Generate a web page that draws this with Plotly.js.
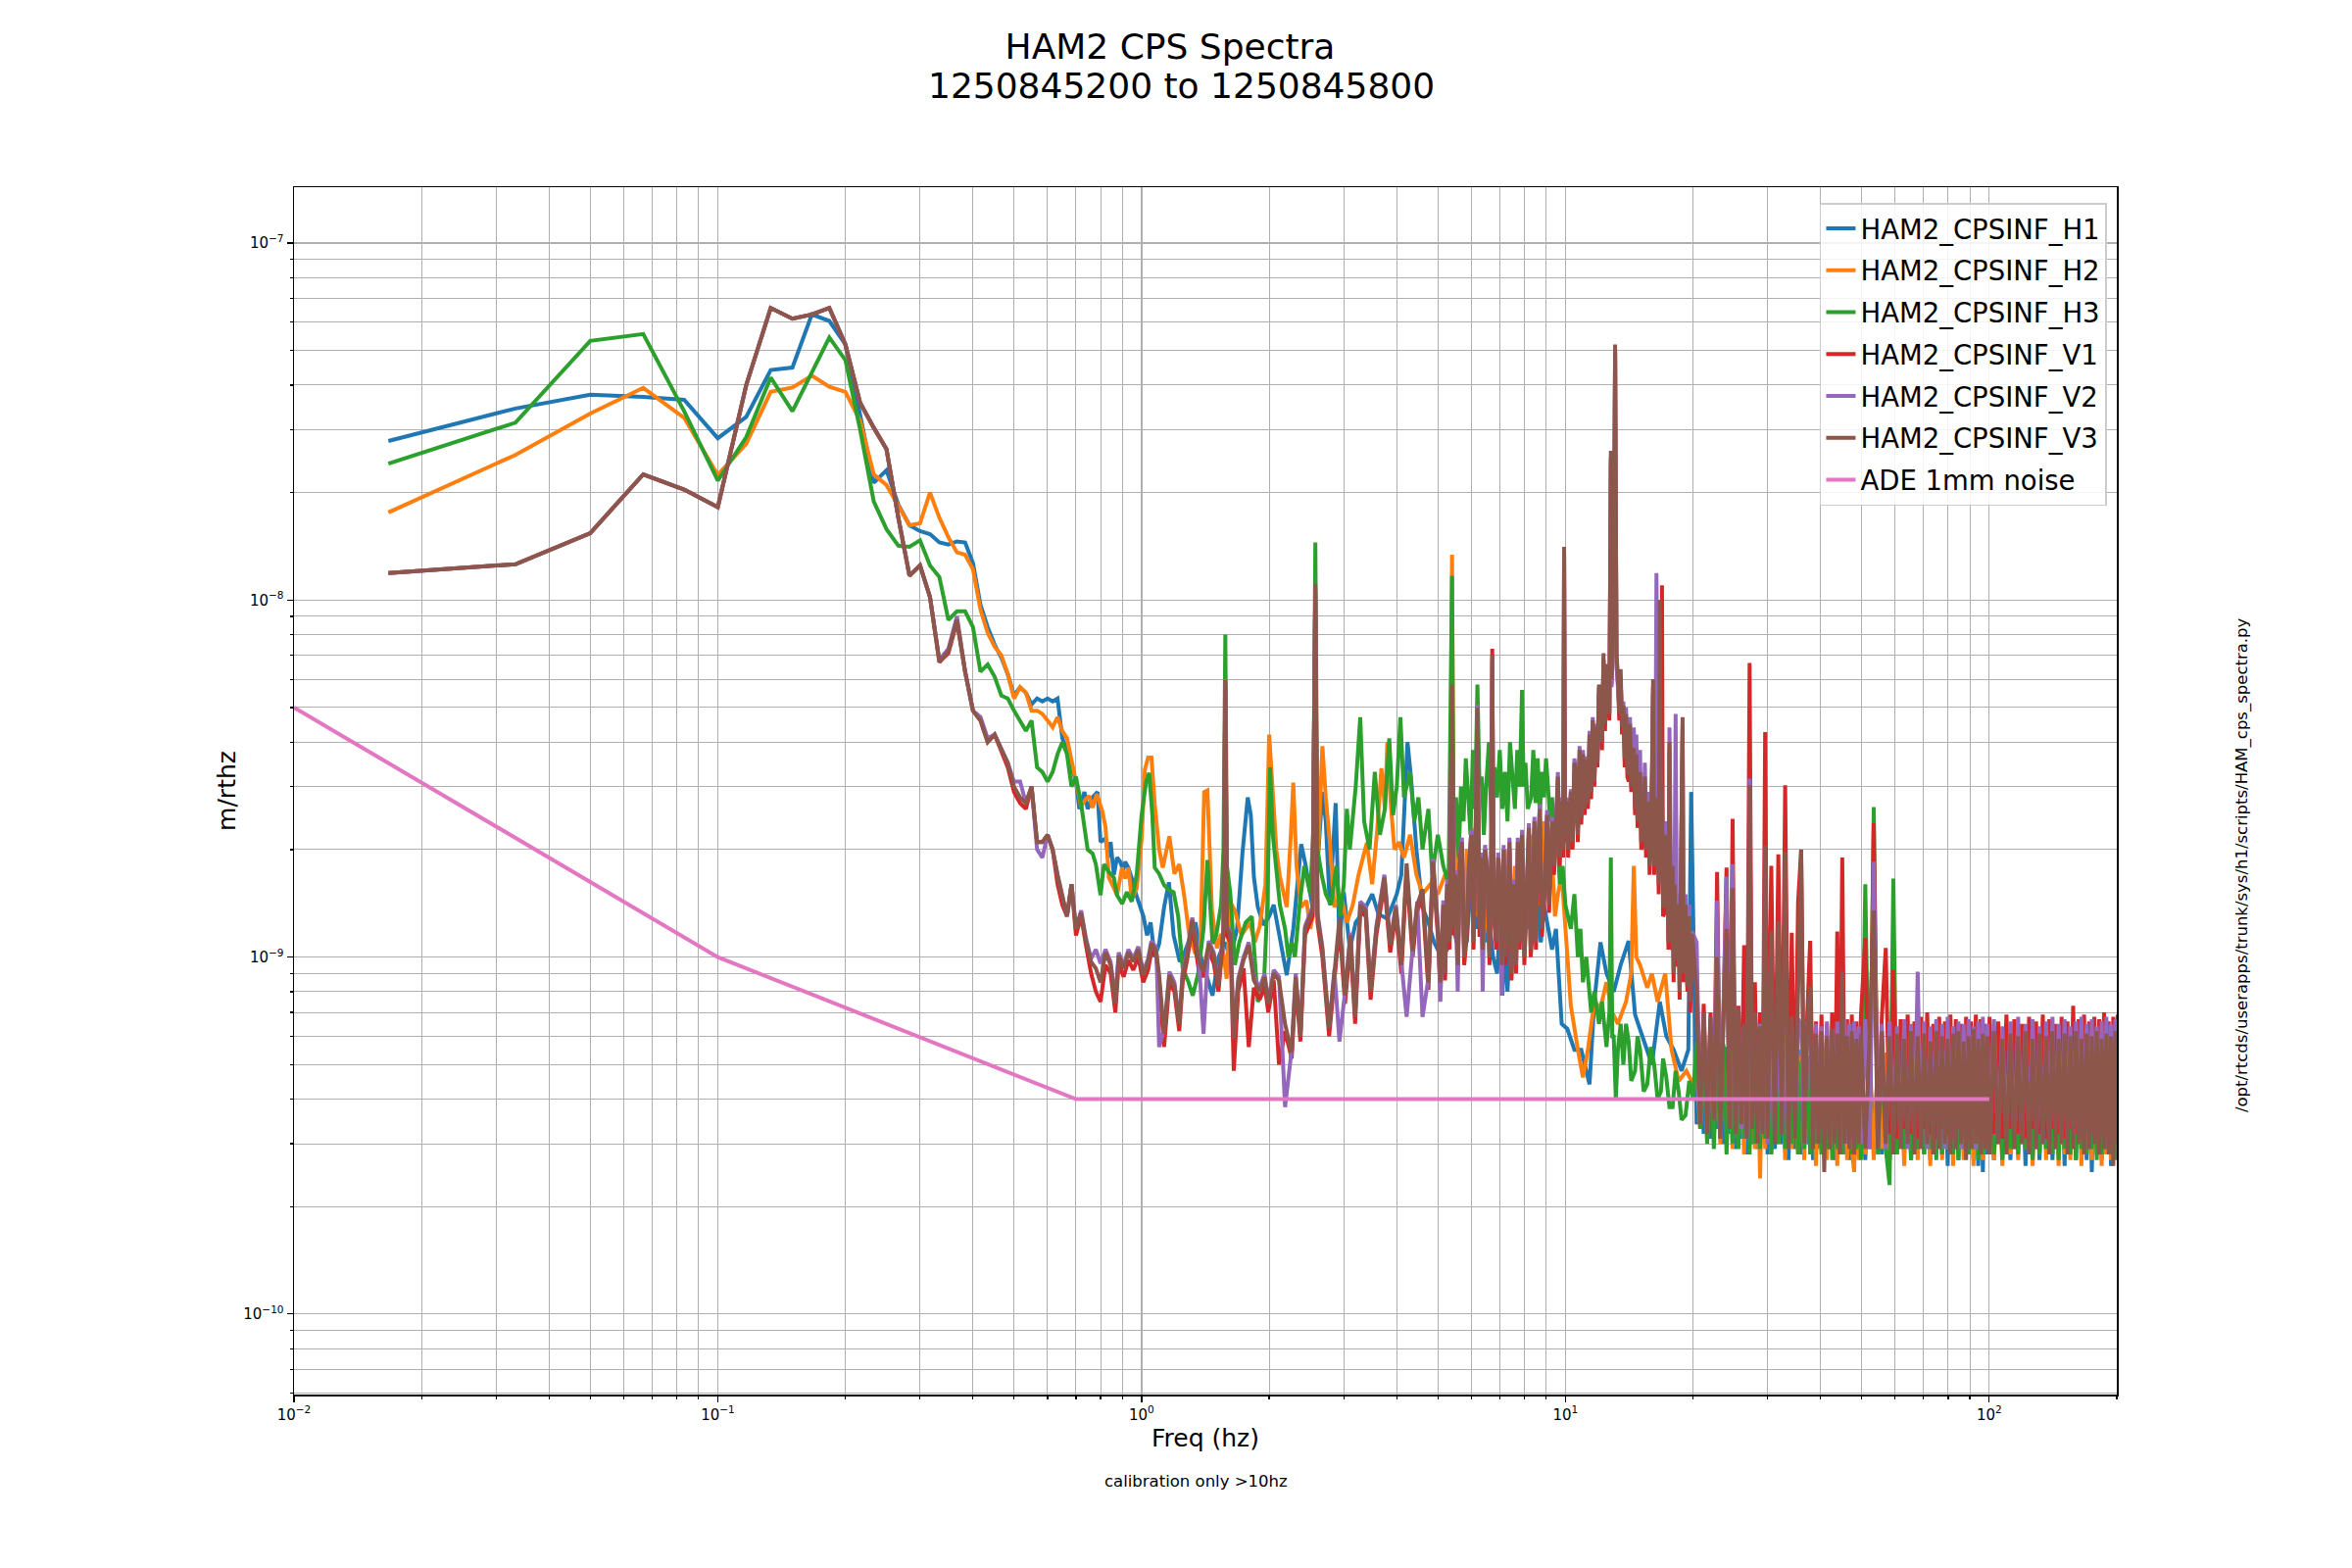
<!DOCTYPE html>
<html><head><meta charset="utf-8">
<script src="https://cdn.plot.ly/plotly-3.0.1.min.js"></script>
<style>html,body{margin:0;padding:0;background:#fff}#chart{width:2400px;height:1600px}</style>
</head><body><div id="chart"></div>
<script>
// All spectral values below are in units of 1e-10 m/rtHz
const UNIT = 1e-10;

// ---- low-frequency bins (Hz), shared by all channels
const fLow = [0.0167,0.0333,0.05,0.0667,0.0833,0.1,0.1167,0.1333,0.15,0.1667,0.1833,0.2,0.2167,0.2333,0.25,0.2667,0.2833,0.3,0.3167,0.3333,0.35,0.3667,0.3833,0.4,0.4167,0.4333,0.45,0.4667,0.4833,0.5,0.5167,0.5333,0.55,0.5667,0.5833,0.6,0.6167,0.6333,0.65,0.6667,0.6833,0.7];

const h1Low = [279,344,376,371,364,284,326,441,448,631,605,520,330,213,231,185,162,156,153,145,143,146,145,127,97,84,75,69,62,54,57,55,51,53,52,53,52,53,41,38,34,31];
const h2Low = [176,255,333,393,324,224,274,383,394,425,396,383,318,225,210,183,162,164,200,170,150,136,134,122,94,81,74,70,62,53,57,55,49,49,48,46,44,47,43,41,36,31];
const h3Low = [241,314,532,556,338,216,286,420,338,436,544,470,300,189,158,142,141,147,125,116,88,93,93,84,63,66,61,54,53,49,46,43,46,34,33,31,33,37,40,37,30,32];
const v1Low = [119,126,154,225,204,182,400,658,614,631,658,520,357,304,265,170,117,125,102,67,71,87,63,49,46,40,42,38,34,29,27,26,30,21,21,22,20,16,14,13,16,11.5];
const v2Low = [119,126,154,225,204,182,400,658,614,631,658,520,357,304,265,170,117,125,102,68,73,90,63,49,47,41,42,38,35,31,31,27,30,20,19,22,20,17,15,13,16,12];
const v3Low = [119,126,154,225,204,182,400,658,614,631,658,520,357,304,265,170,117,125,102,67,72,88,63,49,46,40,42,38,35,30,28,27,30,21,21,22,20,17,15,13,16,12];

// ---- mid band (0.7 - 20 Hz)
const h1MidF = [0.713,0.733,0.746,0.766,0.787,0.80,0.822,0.835,0.845,0.86, 0.875,0.89,0.905,0.915,0.93,0.95,0.97,1.01,1.03,1.05, 1.074,1.1,1.13,1.16,1.19,1.23,1.26,1.29,1.34,1.38, 1.42,1.47,1.52,1.57,1.62,1.68,1.73,1.78,1.81,1.84, 1.88,1.94,2.0,2.05,2.1,2.2,2.28,2.38,2.44,2.53, 2.6,2.67,2.72,2.78,2.87,2.93,3.0,3.1,3.2,3.35, 3.5,3.62,3.8,4.0,4.1,4.24,4.32,4.45,4.6,4.75, 4.9,5.1,5.26,5.4,5.45,
 5.54,5.65,5.75,5.85,6.0,6.15,6.28,6.45,6.6,6.75, 6.9,7.0,7.1,7.2,7.3,7.45,7.6,7.8,8.0,8.15, 8.35,8.5,8.6,8.75,8.9,9.1,9.3,9.5,9.65,
 9.8,10.1,10.5,10.9,11.4,11.7,12.1,12.5,13.0,13.5,14.1,14.6,15.2,16.0,16.7,17.3,18.0,18.8,19.5,19.8];
const h1Mid = [26,29,26,28,29,21,21.5,19,21,17, 19,18.5,17.5,18.5,17.8,16.5,15,13,11.5,12.5, 10,10.9,13.8,16.2,11.5,9.7,10.2,11,12.5,10, 9,7.8,10,11,10,12,19.6,28,25,16.8, 13.8,12.3,13,14,12,8.9,12,20.7,18,13.8, 18,29,24,14,27,11,15.2,10.5,12.5,13.5, 15,13.2,12.8,15,17,40,32,20,13.8,12.5, 11,10,10.5,25,12,
 11,15,14,11,17,12,15,11,13,10, 9,12,7.8,11,8,14,13,11,14,12, 13.5,16,14,11,14,12,10.5,12,9,
 6.5,6.3,5.5,5.5,4.4,7.5,11,9,8,9.5,11.1,6.9,6,5,7.5,6,5.5,4.8,5.5,29];

const h2MidF = [0.72,0.735,0.752,0.766,0.784,0.808,0.822,0.837,0.86,0.875, 0.899,0.915,0.931,0.948,0.974,1.0,1.018,1.036,1.055,1.074, 1.1,1.122,1.163,1.195,1.227,1.26,1.294,1.34,1.377,1.405, 1.43,1.465,1.505,1.54,1.587,1.62,1.66,1.72,1.8,1.85, 1.9,1.96,2.0,2.04,2.08,2.12,2.16,2.2,2.25,2.28, 2.32,2.38,2.45,2.5,2.56,2.62,2.67,2.72,2.78,2.85, 2.95,3.05,3.15,3.25,3.4,3.5,3.6,3.68,3.75,3.8, 3.87,3.95,4.05,4.16,4.3,4.45,4.6,4.8,5.0,5.2, 5.35,5.4,
 5.45,5.5,5.55,5.62,5.7,5.78,5.85,5.9,6.0,6.1, 6.2,6.3,6.4,6.5,6.6,6.7,6.8,6.87,6.95,7.1, 7.2,7.3,7.45,7.6,7.7,7.9,8.0,8.2,8.3,8.5, 8.6,8.8,8.9,9.0,9.15,9.3,9.45,9.6,9.8,10.0,
 10.3,10.7,11.0,11.3,11.7,12.1,12.5,12.9,13.3,13.9,14.3,14.5,14.7,15.0,15.6,16.0,16.5,17.2,17.8,18.5,19.3,20.0];
const h2Mid = [26.4,27.5,28.3,26.2,28.6,25.6,23.1,16.7,15.6,14.9, 17.8,16.6,17.8,14.5,15.6,21.4,33.5,36.2,36.2,26.8, 20,17.8,21.8,17.1,18.2,14.9,11.6,10.2,10.9,29, 29.3,13.6,10.6,11.6,8.7,14.2,13.5,11.5,12.5,11, 12.2,16,42,30,19.9,16.8,15,13.8,22,30.8, 18,13.8,14.4,12,13.8,22,39,28,21,13.8, 15,12.5,14,17,20.9,16,23,33.8,26,40, 27,20,21,19,22,17,15,16,15,17, 17,134,
 20,15,22,13,18,12,20,16,23,19, 13,16,11,15,11,13,17,11,19,14, 20,17,12,18,14,20,15,17,22,19, 14,17,24,21,16,19,13,15,17,12,
 7.3,5.5,4.6,5.5,7.5,7.2,8.5,7,6.5,7.5,9,18,10,9.5,8.2,9,7.5,9,5.5,4.5,4.8,4.4];

const h3MidF = [0.72,0.746,0.766,0.78,0.8,0.815,0.837,0.86,0.875,0.9, 0.923,0.948,0.974,1.0,1.025,1.042,1.06,1.074,1.1,1.13, 1.16,1.19,1.22,1.25,1.29,1.32,1.36,1.4,1.43,1.47, 1.5,1.54,1.56,1.576,1.59,1.62,1.66,1.7,1.76,1.82, 1.88,1.94,1.98,2.01,2.04,2.08,2.12,2.18,2.22,2.26, 2.3,2.36,2.42,2.5,2.54,2.57,2.6,2.66,2.72,2.8, 2.88,2.94,3.0,3.05,3.1,3.2,3.28,3.35,3.45,3.55, 3.65,3.75,3.84,3.92,4.0,4.08,4.16,4.3,4.4,4.5, 4.6,4.75,4.85,5.0,5.15,5.3,5.4,
 5.45,5.52,5.6,5.67,5.75,5.82,5.9,5.97,6.05,6.12, 6.2,6.27,6.35,6.42,6.5,6.6,6.7,6.8,6.9,7.0, 7.1,7.2,7.3,7.4,7.5,7.6,7.7,7.8,7.9,7.97, 8.05,8.15,8.3,8.4,8.5,8.6,8.7,8.8,8.9,9.0, 9.1,9.2,9.3,9.4,9.55,9.7,9.85,10.0,10.3,10.5, 10.7,10.85,11.0,11.2,11.5,11.7,12.0,12.2,12.5,12.7, 12.8,12.9,13.0,13.15,13.3,13.5,13.7,13.9,14.1,14.3, 14.6,14.8,15.0,15.3,15.6,15.9,16.2,16.5,16.8,17.0, 17.3,17.6,17.9,18.2,18.5,18.8,19.2,19.6,20.0];
const h3Mid = [26.8,20,19.5,18.2,14.9,18.2,17.3,16.7,14.9,14.1, 15.2,14.3,17.1,25,31,32.8,25,17.8,17.1,15.9, 15.4,15.2,13,9.3,8.5,7.8,9,12,18.7,10.9, 11.5,14,20,80,18,15,9.5,11,12.5,13, 7.5,8,14,34,22,18,14,12,10,11, 10,14,18,15,22,145,20,17,15,14, 18,13,16,26,20,30,47,24,20,33, 22,26,41,25,30,47,28,33,24,28, 20,26,17,22,18,16,117,
 20,28,19,30,24,36,28,22,38,26, 58,30,32,22,30,40,22,34,28,38, 26,33,24,40,32,26,38,30,56,30, 35,26,28,38,27,36,25,33,28,36, 30,24,28,22,24,16,18,14,12,15, 10,12,8.5,10,7,8,6.5,7.5,5.6,7, 19,6,6,4,5.5,6.5,5,6.5,5.8,4.5, 4.8,6,5.5,4.2,4.4,5.6,5,4,4.2,5.2, 4.6,3.8,3.8,4.8,4.2,3.5,3.6,4.5,4.0];

// V channels share one mid-band frequency list
const vMidF = [0.72,0.739,0.76,0.78,0.80,0.822,0.845,0.867,0.883,0.907, 0.931,0.956,0.982,1.009,1.036,1.055,1.083,1.10,1.13,1.163, 1.195,1.227,1.25,1.28,1.317,1.364,1.40,1.44,1.48,1.518, 1.56,1.576,1.59,1.62,1.65,1.69,1.74,1.79,1.84,1.90, 1.95,1.99,2.05,2.11,2.18,2.26,2.31,2.37,2.43,2.53, 2.57,2.60,2.67,2.77,2.85,2.93,3.02,3.11,3.19,3.28, 3.38,3.47,3.58,3.74,3.86,3.98,4.10,4.22,4.36,4.47, 4.60,4.75,4.87,
 5.0,5.07,5.15,5.2,5.26,5.33,5.40,5.45,5.50,5.57, 5.64,5.70,5.77,5.85,5.92,6.0,6.07,6.13,6.2,6.27, 6.32,6.38,6.46,6.55,6.62,6.68,6.72,6.77,6.87,6.94, 7.0,7.08,7.15,7.22,7.3,7.38,7.46,7.57,7.65,7.72, 7.8,7.9,8.0,8.1,8.2,8.28,8.35,8.45,8.52,8.6, 8.7,8.8,8.96,9.05,9.15,9.3,9.4,9.5,9.6,9.7, 9.8,9.88,9.93,9.98,10.07,10.15,10.3,10.4,10.5,10.6, 10.7,10.8,10.9,11.0,11.1,11.2,11.3,11.4,11.5,11.6, 11.7,11.8,11.9,12.0,12.1,12.2,12.3,12.4,12.5,12.6, 12.7,12.8,12.85,12.9,13.0,13.1,13.2,13.3,13.4,13.5, 13.6,13.7,13.8,13.9,14.0,14.1,14.2,14.3,14.5,14.6, 14.7,14.8,14.9,15.0,15.1,15.3,15.4,15.5,15.7,15.8, 16.0,16.1,16.2,16.3,16.4,16.5,16.6,16.7,16.8,16.9, 17.0,17.1,17.25,17.4,17.5,17.6,17.7,17.8,17.9,18.0, 18.1,18.2,18.3,18.5,18.6,18.7,18.9,19.0,19.2,19.4, 19.6,19.7,19.9];
const v1Mid = [13.0,10.8,9.0,8.0,7.5,9.5,9.0,7.0,9.6,8.8, 9.8,9.2,10,8.5,9.2,10.4,10,8.5,5.6,8.5, 8,6.2,8.5,9.8,12.2,9.2,8.8,10.4,9.6,8, 11.4,57,11.5,11,4.8,8,9.3,5.6,8.2,7.6, 8.4,7,8.6,5.0,6.2,5.2,8.4,5.8,11.5,13, 105,12.5,10,6,8.6,12.2,7.4,11,6.5,13.4, 13,7.6,11.5,16,10.3,13.2,9,17.5,10,13.4, 14.8,8.1,17.7,
 11.5,8,13.4,8.6,15.3,10.5,56,11.5,16.2,9, 18,20,9.5,11.4,17,21,10.5,19,48,11.4, 18,10,19,16.2,9.5,17,73,13.3,10.5,18, 15.2,9,19,9.5,12.4,20,8.6,15.2,9,20, 10.5,21,9.5,14.3,22,10,11.4,23,10.5,18, 25,11.4,16.2,24,13.3,23,
 17,22,31,18, 26,19,135,21,26,19,27.7,20,33,31, 21,36,23.5,35,25,34,26,40,27.7,44, 30,42,34,55,52,38,68,43,63,61, 46,250,58,72,90,495,66,59,46,61, 42,48,34,46,32,31,43,29,37,25, 35,23,26,31,20,21,30,19,26,17, 29,57,17,25,19.8,27,15,30,17,110, 13,13.2,21,18.5,10.5,38,11,10.5,17,8.5, 15,9.4,13,12.4,7.6,15,45,8.5,13,8, 12,7,11];
const v2Mid = [13.5,11.3,9.9,10.5,9.6,10.5,9.7,7.6,10.3,9.5, 10.5,9.9,10.7,9.1,9.9,11.1,10.6,5.6,6.3,9.1, 8.5,6.6,9.1,10.3,12.9,9.9,6.1,11.1,10.3,8.5, 12.1,60,12.2,11.8,6.0,8.7,10,11,8.8,8.2, 9,7.5,9.2,8.8,3.8,5.5,9,6.1,12.2,13.8, 108,13.3,10.7,6.4,9.2,5.8,8,11.7,6.9,14.3, 13.8,8.2,12.2,17,11,14,9.7,6.8,10.6,14.3, 6.8,8.7,18.9,
 12.4,7.5,14.4,9.3,16.5,11.3,57,12.4,17.5,8, 19.6,21.6,10.3,12.4,18.5,22.7,11.3,20.6,51,12.4, 19.6,8,20.6,17.5,10.3,18.5,68,14.4,11.3,19.6, 16.5,7.8,20.6,10.3,13.4,21.6,9.3,16.5,9.8,21.6, 11.3,22.7,10.3,15.5,23.7,10.8,12.4,24.7,11.3,19.6, 26.8,12.4,17.5,25.8,14.4,24.7,
 18.5,23.5,33,19.5, 28,21,138,23,28,21,29.5,22,36,33, 23,39,25,38,27,36.5,28,43,29.5,47, 32,45,36,57,52,41,60,46,62,58, 49,240,57,70,85,505,65,58,50,60, 46,52,40,50,38,36,47,34,44,30, 42,28,36,38,24,25,35,22,29,20, 33,55,20,28,119,30,18,70,20,28, 15,15,24,21,12,44,13,12,19,10, 17,48,15,13,9,17,40,10,15,8.5, 14,8,11.8];
const v3Mid = [13.3,11.1,9.7,9.3,8.5,10.3,9.5,7.4,10.1,9.3, 10.3,9.7,10.5,8.9,9.7,10.9,10.4,8.9,6.1,8.9, 8.3,6.5,8.9,10.1,12.7,9.7,9.1,10.9,10.1,8.3, 11.9,59.7,12,11.6,5.9,8.5,9.8,10.8,8.6,8.0, 8.8,7.4,9.0,8.6,6.5,5.4,8.8,6.0,12,13.5, 111,13,10.5,6.3,9.0,12.8,7.8,11.5,6.8,14, 13.5,8,12,16.7,10.8,13.8,9.5,18.3,10.4,14, 15.5,8.5,18.5,
 12,8.5,14,9,16,11,58,12,17,9.5, 19,21,10,12,18,22,11,20,50,12, 19,10.5,20,17,10,18,70,14,11,19, 16,9.5,20,10,13,21,9,16,9.5,21, 11,22,10,15,23,10.5,12,24,11,19, 26,12,17,25,14,24,
 18,23,32,19, 27.3,20,141,22,27.3,20,29,21,35,32.4, 22,38,24.6,37,26,35.8,27,42,29,46, 31,44.1,35,58,54.2,40,71,45,66,64.3, 48,262,60,76,95,520,70,62,48,64, 44,50.6,36,48,34,32.4,45,30,38.5,26, 37,24,27.3,33,21,22.2,32,20,27.3,18, 30,60,18,26,20.7,28,16,100,18,30, 14,13.8,22,19.4,11,40,12,11,18,9, 16,9.8,14,13,8,16,47,9,14,8.3, 13,7.5,11.6];

// ---- high band (20 - 200 Hz), shared frequency grid
const fHigh = [20.4,20.8,21.2,21.6,22.0,22.4,22.8,23.2,23.6,24.0,24.4,24.8,25.2,25.6,26.0,26.4,26.8,27.2,27.6,28.0,28.4,28.8,29.2,29.6,30.0,
30.6,31.2,31.8,32.4,33.0,33.6,34.2,34.8,35.4,36.0,36.6,37.2,37.8,38.4,39.0,39.6,40.2,40.8,41.4,42.0,42.6,43.2,43.8,44.4,45.0,45.6,46.2,46.8,47.4,48.0,48.6,49.2,49.8,
51.0,52.2,53.4,54.6,55.8,57.0,58.2,59.4,60.6,61.8,63.0,64.2,65.4,66.6,67.8,69.0,70.2,71.4,72.6,73.8,75.0,76.2,77.4,78.6,79.8,81.0,82.2,83.4,84.6,85.8,87.0,88.2,89.4,90.6,91.8,93.0,94.2,95.4,96.6,97.8,99.0,100.2,
102.6,105.0,107.4,109.8,112.2,114.6,117.0,119.4,121.8,124.2,126.6,129.0,131.4,133.8,136.2,138.6,141.0,143.4,145.8,148.2,150.6,153.0,155.4,157.8,160.2,162.6,165.0,167.4,169.8,172.2,174.6,177.0,179.4,181.8,184.2,186.6,189.0,191.4,193.8,196.2,198.6,201.0];

const h1High = [3.4,5.2,3.2,5.5,3.1,5.0,3.3,5.4,3.0,5.6, 3.2,5.1,2.9,5.5,3.1,5.0,2.8,5.6,3.0,5.2, 2.9,5.4,3.1,5.0,2.8,5.5,2.9,5.1,3.0,5.4, 2.7,5.2,2.9,5.5,2.8,5.0,3.0,5.3,2.7,5.1, 2.9,5.4,2.8,5.0,2.9,5.3,2.7,5.1,2.9,5.4, 2.8,5.0,2.7,5.2,2.9,5.4,2.8,5.1,2.7,5.3, 2.9,5.0,2.8,5.4,2.7,5.2,2.9,5.0,2.8,5.3, 2.7,5.1,2.9,5.4,2.8,5.0,2.7,5.2,2.9,5.3, 2.8,5.1,2.6,5.4,2.8,5.0,2.7,5.2,2.9,5.3, 2.8,5.1,2.7,5.4,2.6,5.0,2.5,5.2,2.8,5.3, 2.7,5.1,2.9,5.4,2.7,5.0,2.8,5.2,2.6,5.3, 2.8,5.1,2.7,5.4,2.9,5.0,2.7,5.2,2.8,5.3, 2.6,5.1,2.8,5.4,2.7,5.0,2.9,5.2,2.7,5.3, 2.5,5.1,2.8,5.4,2.7,5.0,2.8,5.2,2.6,5.3,2.8,5.1];
const h2High = [5.0,3.3,5.3,3.1,5.1,3.4,5.4,3.0,5.2,3.2, 5.0,2.9,5.3,3.1,5.1,2.8,5.4,3.0,5.0,2.9, 5.2,2.4,5.3,2.9,5.1,2.8,5.0,3.0,5.4,2.7, 5.2,2.9,5.0,2.8,5.3,2.7,5.1,2.9,5.4,2.6, 5.0,2.8,5.2,2.7,5.3,2.9,5.1,2.6,5.0,2.8, 5.4,2.7,5.2,2.9,2.5,5.1,2.7,5.3,2.8,5.0, 2.7,5.2,2.9,5.4,2.7,5.1,2.8,5.0,2.6,5.3, 2.8,5.2,2.7,5.0,2.9,5.4,2.6,5.1,2.8,5.3, 2.7,5.0,2.9,5.2,2.6,5.4,2.8,5.1,2.7,5.3, 2.9,5.0,2.6,5.2,2.8,5.4,2.7,5.1,2.9,5.0, 2.7,5.3,2.6,5.2,2.8,5.0,2.7,5.4,2.9,5.1, 2.6,5.3,2.8,5.0,2.7,5.2,2.9,5.4,2.6,5.1, 2.8,5.3,2.7,5.0,2.9,5.2,2.6,5.4,2.8,5.1, 2.7,5.0,2.9,5.3,2.6,5.2,2.8,5.0,2.7,5.4,2.9,5.1];
const h3High = [5.8,3.3,5.5,3.0,5.9,2.9,5.4,3.1,5.7,2.8, 5.3,3.0,5.6,2.9,5.2,3.1,5.5,2.8,5.3,3.0, 5.6,2.9,5.2,3.1,5.4,2.8,5.3,3.0,5.5,2.9, 5.2,3.0,5.4,2.8,5.1,2.9,5.3,2.8,5.5,3.0, 5.2,2.8,5.4,2.9,5.1,2.7,5.3,2.9,5.5,2.8, 5.2,3.0,5.4,2.8,5.1,2.9,5.3,2.7,16,2.9, 26.3,2.8,5.3,2.9,2.3,16.6,2.8,5.2,2.9,5.4, 2.7,5.1,2.9,5.3,2.8,5.5,2.9,5.2,2.7,5.4, 2.8,5.1,2.9,5.3,2.8,5.5,2.7,5.2,2.9,5.4, 2.8,5.1,2.9,5.3,2.7,5.5,2.8,5.2,2.9,5.4, 2.8,5.1,2.7,5.3,2.9,5.5,2.8,5.2,2.9,5.4, 2.7,5.1,2.8,5.3,2.9,5.5,2.8,5.2,2.7,5.4, 2.9,5.1,2.8,5.3,2.7,5.5,2.9,5.2,2.8,5.4, 2.9,5.1,2.7,5.3,2.8,5.5,2.9,5.2,2.8,5.4,2.7,5.1];
const v1High = [9,3.6,7.4,3.5,7.0,3.7,17.3,3.4,7.2,17.8, 3.5,24.4,3.4,7.3,3.6,10.8,3.3,66.6,3.5,8.5, 3.3,7.0,3.5,42.7,3.3,18,3.2,19.4,3.4,30.3, 3.2,11.7,3.3,14.2,20,3.2,6.8,11.1,3.2,6.6, 3.3,6.9,3.1,6.5,3.2,7.0,3.3,11.8,3.1,19, 3.3,6.7,3.2,6.9,3.1,6.6,3.3,6.8,11.3,3.2, 23.7,3.1,6.8,10.6,3.2,9.2,3.1,6.7,3.3,6.9, 3.2,6.6,3.1,6.8,3.3,7.0,3.2,6.5,3.1,6.8, 3.3,6.6,3.2,6.9,3.1,6.7,3.3,6.5,3.2,6.8, 3.1,6.6,3.3,6.9,3.2,6.7,3.1,6.5,3.3,6.8, 3.2,6.6,3.1,6.9,3.3,6.7,3.2,6.5,3.1,6.8, 3.3,6.6,3.2,6.9,3.1,6.7,3.3,6.5,3.2,6.8, 3.1,6.6,3.3,7.3,3.2,6.7,3.1,6.9,3.3,6.6, 3.2,6.8,3.1,6.7,3.3,7.0,3.2,6.6,3.1,6.8,3.3,6.9];
const v2High = [11,3.4,7.0,3.3,6.6,3.5,14.4,3.2,6.9,16.8, 3.3,18.2,3.2,7.0,3.3,6.4,3.1,31.6,3.3,6.6, 3.1,6.5,3.2,20,3.0,6.8,3.1,6.6,3.2,6.9, 3.0,6.4,3.1,6.7,6.5,3.0,6.6,6.3,3.0,6.5, 3.1,6.4,2.9,6.6,3.0,6.3,3.1,6.6,2.9,6.4, 6.7,3.0,6.5,2.9,6.6,3.1,6.4,3.0,6.7,2.9, 18.5,3.0,6.5,2.9,6.6,3.1,6.4,3.0,6.7,2.9, 6.5,3.1,9.1,3.0,6.6,2.9,6.4,3.1,6.7,3.0, 6.5,2.9,6.8,3.0,6.4,3.1,6.6,2.9,6.5,3.0, 6.7,3.1,6.4,2.9,6.6,3.0,6.8,3.1,6.5,2.9, 6.7,3.0,6.4,3.1,6.6,2.9,6.8,3.0,6.5,3.1, 6.7,2.9,6.4,3.0,6.6,3.1,6.8,2.9,6.5,3.0, 6.7,3.1,6.4,2.9,6.6,3.0,6.8,3.1,6.5,2.9, 6.7,3.0,6.4,3.1,6.6,2.9,6.8,3.0,6.5,3.1,6.7,3.0];
const v3High = [8.0,3.4,7.0,3.2,6.8,3.5,10,3.1,6.6,12, 3.3,15.6,3.2,7.2,3.4,6.5,3.1,30.3,3.3,7.0, 3.0,6.4,3.2,20.5,3.1,11.8,3.0,12.6,3.2,19.7, 2.9,6.8,3.1,7.4,20,3.0,6.3,8.3,2.9,6.1, 3.0,6.2,2.5,6.0,2.9,6.3,3.0,6.1,2.8,9.1, 3.0,6.0,2.9,6.2,2.8,5.9,3.0,6.1,2.9,6.0, 13.5,2.9,6.2,3.0,6.0,2.8,6.1,2.9,5.9,3.0, 6.2,2.8,6.0,2.9,6.1,3.0,5.8,2.8,6.2,2.9, 6.0,3.0,5.9,2.8,6.1,2.9,6.2,3.0,5.8,2.7, 6.0,2.9,6.3,3.0,5.9,2.8,6.1,2.9,6.0,2.8, 6.2,3.0,5.9,2.8,6.1,2.9,6.0,3.0,6.2,2.8, 5.9,2.9,6.1,3.0,6.0,2.8,6.2,2.9,5.9,3.0, 6.1,2.8,6.0,2.9,6.2,3.0,5.9,2.8,6.1,2.9, 6.0,3.0,6.2,2.8,5.9,2.9,6.1,2.8,6.0,2.6,6.2,3.0];

// ---- ADE 1mm noise model (Hz, m/rtHz)
const adeF = [0.01,0.1,0.7,100];
const adeV = [5e-9,1e-9,4e-10,4e-10];

const names = ['HAM2_CPSINF_H1','HAM2_CPSINF_H2','HAM2_CPSINF_H3','HAM2_CPSINF_V1','HAM2_CPSINF_V2','HAM2_CPSINF_V3','ADE 1mm noise'];
const colors = ['#1f77b4','#ff7f0e','#2ca02c','#d62728','#9467bd','#8c564b','#e377c2'];

// tick labels
const xTickVals = [0.01,0.1,1,10,100];
const xTickText = ['10<sup>\u22122</sup>','10<sup>\u22121</sup>','10<sup>0</sup>','10<sup>1</sup>','10<sup>2</sup>'];
const yTickVals = [1e-10,1e-9,1e-8,1e-7];
const yTickText = ['10<sup>\u221210</sup>','10<sup>\u22129</sup>','10<sup>\u22128</sup>','10<sup>\u22127</sup>'];
const minorDigits = [2,3,4,5,6,7,8,9];
function minorVals(exps){const o=[];exps.forEach(e=>minorDigits.forEach(d=>o.push(d*Math.pow(10,e))));return o;}

const LW = 4;
function chan(i, fMid, low, mid, high){
  return {type:'scatter', mode:'lines', name:names[i], legendgroup:'g'+i,
    x: fLow.concat(fMid, fHigh),
    y: low.concat(mid, high).map(v=>v*UNIT),
    line:{color:colors[i], width:LW}};
}
const data = [
  chan(0, h1MidF, h1Low, h1Mid, h1High),
  chan(1, h2MidF, h2Low, h2Mid, h2High),
  chan(2, h3MidF, h3Low, h3Mid, h3High),
  chan(3, vMidF, v1Low, v1Mid, v1High),
  chan(4, vMidF, v2Low, v2Mid, v2High),
  chan(5, vMidF, v3Low, v3Mid, v3High),
  {type:'scatter', mode:'lines', name:names[6], legendgroup:'g6', x:adeF, y:adeV, line:{color:colors[6], width:LW}}
];

const gridC = '#b0b0b0';
const axBase = {
  type:'log', showgrid:true, gridcolor:gridC, gridwidth:1.2, zeroline:false,
  ticks:'outside', ticklen:6, tickwidth:1.2, tickcolor:'#000',
  showline:true, linecolor:'#000', linewidth:1.5, mirror:true,
  tickfont:{size:15, color:'#000'}, tickmode:'array'
};
const layout = {
  width:2400, height:1600,
  paper_bgcolor:'#fff', plot_bgcolor:'#fff',
  margin:{l:300, r:240, t:191, b:177},
  font:{family:'DejaVu Sans, sans-serif', color:'#000'},
  showlegend:true, hovermode:false,
  title:{text:'HAM2 CPS Spectra', font:{size:36, color:'#000'},
    x:0.4975, xref:'container', xanchor:'center', y:0.9706, yref:'container', yanchor:'middle'},
  xaxis:Object.assign({}, axBase, {
    range:[-2, Math.log10(200)], tickvals:xTickVals, ticktext:xTickText,
    minor:{tickmode:'array', tickvals:minorVals([-2,-1,0,1,2]), showgrid:true, gridcolor:gridC, gridwidth:1, ticks:'outside', ticklen:3, tickcolor:'#000'},
    title:{text:'Freq (hz)', font:{size:25, color:'#000'}, standoff:5}
  }),
  yaxis:Object.assign({}, axBase, {
    range:[-10.2254, -6.8435], tickvals:yTickVals, ticktext:yTickText,
    minor:{tickmode:'array', tickvals:minorVals([-11,-10,-9,-8,-7]), showgrid:true, gridcolor:gridC, gridwidth:1, ticks:'outside', ticklen:3, tickcolor:'#000'},
    title:{text:'m/rthz', font:{size:25, color:'#000'}, standoff:0}
  }),
  legend:{x:0.9946, y:0.987, xanchor:'right', yanchor:'top', bgcolor:'rgba(255,255,255,0.85)',
    bordercolor:'#cccccc', borderwidth:1.5, font:{size:27.5, color:'#000'},
    traceorder:'grouped', tracegroupgap:4},
  annotations:[
    {text:'1250845200 to 1250845800', xref:'paper', yref:'paper', x:0.4866, y:1.0844, xanchor:'center', yanchor:'middle', showarrow:false, font:{size:36, color:'#000'}},
    {text:'calibration only >10hz', xref:'paper', yref:'paper', x:0.495, y:-0.0722, xanchor:'center', yanchor:'middle', showarrow:false, font:{size:16.5, color:'#000'}},
    {text:'/opt/rtcds/userapps/trunk/sys/h1/scripts/HAM_cps_spectra.py', xref:'paper', yref:'paper', x:1.0688, y:0.439, xanchor:'center', yanchor:'middle', textangle:-90, showarrow:false, font:{size:16.5, color:'#000'}}
  ]
};
Plotly.newPlot('chart', data, layout, {staticPlot:true, displayModeBar:false});
</script></body></html>
